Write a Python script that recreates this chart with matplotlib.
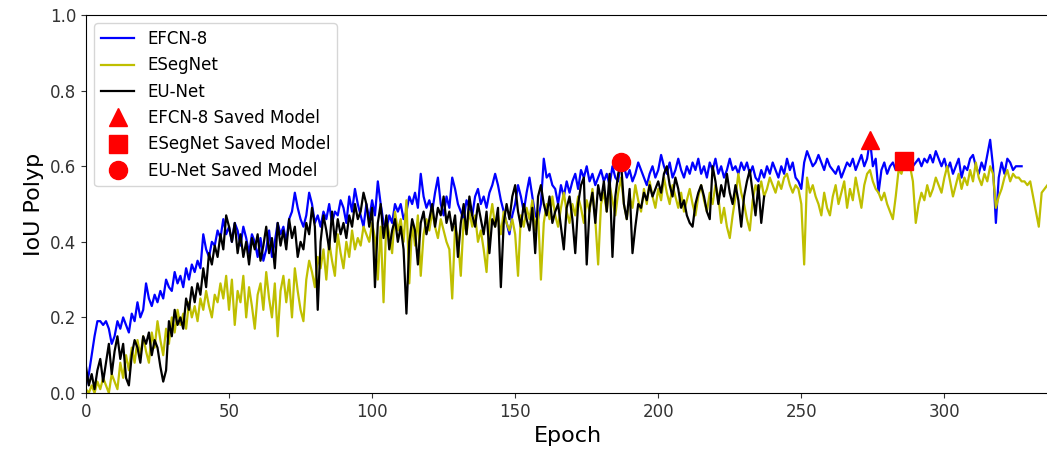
import matplotlib
matplotlib.use('Agg')
import matplotlib.pyplot as plt
import numpy as np

# IoU per epoch
efcn8 = [
    0.02, 0.05, 0.10, 0.15, 0.19, 0.19, 0.18, 0.19, 0.17, 0.13,
    0.15, 0.19, 0.17, 0.20, 0.18, 0.16, 0.21, 0.19, 0.24, 0.20,
    0.22, 0.29, 0.25, 0.23, 0.26, 0.24, 0.27, 0.25, 0.30, 0.28,
    0.27, 0.32, 0.29, 0.31, 0.28, 0.33, 0.30, 0.34, 0.32, 0.35,
    0.33, 0.42, 0.38, 0.36, 0.40, 0.39, 0.43, 0.41, 0.46, 0.42,
    0.44, 0.40, 0.45, 0.43, 0.39, 0.44, 0.41, 0.37, 0.42, 0.40,
    0.36, 0.41, 0.35, 0.38, 0.43, 0.36, 0.40, 0.45, 0.42, 0.44,
    0.40, 0.46, 0.48, 0.53, 0.49, 0.46, 0.44, 0.47, 0.53, 0.50,
    0.45, 0.47, 0.44, 0.48, 0.46, 0.50, 0.45, 0.48, 0.47, 0.51,
    0.49, 0.45, 0.52, 0.48, 0.54, 0.50, 0.47, 0.44, 0.50, 0.46,
    0.51, 0.47, 0.56, 0.50, 0.45, 0.43, 0.47, 0.45, 0.50, 0.48,
    0.50, 0.46, 0.48, 0.52, 0.50, 0.53, 0.49, 0.58, 0.52, 0.49,
    0.51, 0.48, 0.53, 0.57, 0.50, 0.47, 0.52, 0.49, 0.57, 0.54,
    0.50, 0.48, 0.46, 0.51, 0.49, 0.47, 0.52, 0.54, 0.50, 0.52,
    0.49, 0.53, 0.55, 0.58, 0.55, 0.51, 0.48, 0.45, 0.42, 0.47,
    0.50, 0.55, 0.52, 0.48, 0.53, 0.57, 0.52, 0.47, 0.46, 0.50,
    0.62, 0.57, 0.58, 0.55, 0.54, 0.50, 0.55, 0.52, 0.56, 0.53,
    0.56, 0.58, 0.54, 0.59, 0.57, 0.60, 0.56, 0.58, 0.55, 0.57,
    0.59, 0.56, 0.58, 0.55, 0.60, 0.57, 0.56, 0.62, 0.60, 0.57,
    0.59, 0.56, 0.58, 0.61, 0.59, 0.57, 0.55, 0.58, 0.60, 0.57,
    0.59, 0.63, 0.60, 0.58, 0.61, 0.57, 0.59, 0.62, 0.59, 0.57,
    0.60, 0.58, 0.61, 0.59, 0.62, 0.58, 0.60, 0.57, 0.61, 0.59,
    0.62, 0.58, 0.60, 0.57, 0.59, 0.62, 0.59, 0.60, 0.58, 0.61,
    0.59, 0.61, 0.58, 0.60, 0.57, 0.56, 0.59, 0.57, 0.60, 0.58,
    0.61, 0.59, 0.57, 0.60, 0.58, 0.62, 0.59, 0.61, 0.57, 0.56,
    0.54, 0.61, 0.64, 0.62, 0.60, 0.61, 0.63, 0.61, 0.59, 0.62,
    0.60, 0.59, 0.58, 0.60, 0.57, 0.59, 0.61, 0.60, 0.62, 0.59,
    0.61, 0.63, 0.60, 0.62, 0.67, 0.60, 0.62, 0.53, 0.59, 0.61,
    0.58, 0.60, 0.61, 0.59, 0.62, 0.60, 0.61, 0.63, 0.62, 0.60,
    0.61, 0.62, 0.60, 0.62, 0.61, 0.63, 0.61, 0.64, 0.62, 0.60,
    0.62, 0.59, 0.61, 0.58, 0.60, 0.62, 0.57, 0.60, 0.59, 0.62,
    0.63, 0.60, 0.58, 0.61, 0.59, 0.63, 0.67, 0.60, 0.45, 0.57,
    0.61, 0.58, 0.62, 0.61, 0.59, 0.60, 0.60, 0.60,
]

esegnet = [
    0.01, 0.00, 0.02, 0.00, 0.03, 0.01, 0.04, 0.02, 0.00, 0.05,
    0.03, 0.01, 0.08, 0.04, 0.10, 0.06, 0.12, 0.08, 0.14, 0.10,
    0.15, 0.11, 0.08, 0.16, 0.12, 0.19, 0.14, 0.10, 0.17, 0.13,
    0.20, 0.16, 0.22, 0.18, 0.21, 0.17, 0.24, 0.20, 0.23, 0.19,
    0.25, 0.22, 0.27, 0.23, 0.20, 0.26, 0.24, 0.29, 0.25, 0.31,
    0.22, 0.30, 0.18, 0.27, 0.24, 0.31, 0.20, 0.28, 0.23, 0.17,
    0.26, 0.29, 0.22, 0.32, 0.25, 0.20, 0.29, 0.15, 0.27, 0.31,
    0.24, 0.30, 0.20, 0.33, 0.27, 0.22, 0.19, 0.30, 0.35, 0.32,
    0.28, 0.36, 0.33, 0.38, 0.30, 0.40, 0.35, 0.31, 0.42, 0.37,
    0.33, 0.40, 0.36, 0.43, 0.38, 0.41, 0.39, 0.44, 0.42, 0.40,
    0.45, 0.41, 0.30, 0.44, 0.24, 0.46, 0.42, 0.37, 0.48, 0.43,
    0.46, 0.40, 0.51, 0.29, 0.45, 0.39, 0.47, 0.31, 0.42, 0.46,
    0.43, 0.48, 0.44, 0.41, 0.46, 0.43, 0.40, 0.38, 0.25, 0.44,
    0.41, 0.31, 0.46, 0.42, 0.48, 0.44, 0.47, 0.40, 0.43, 0.38,
    0.32, 0.45, 0.50, 0.44, 0.47, 0.42, 0.48, 0.45, 0.43, 0.46,
    0.42, 0.31, 0.47, 0.44, 0.49, 0.46, 0.51, 0.43, 0.48, 0.30,
    0.45, 0.50, 0.46, 0.52, 0.47, 0.44, 0.49, 0.53, 0.48, 0.45,
    0.50, 0.47, 0.52, 0.49, 0.45, 0.51, 0.48, 0.54, 0.46, 0.34,
    0.50, 0.53, 0.48, 0.55, 0.51, 0.47, 0.53, 0.57, 0.50, 0.46,
    0.52, 0.49, 0.55, 0.51, 0.48, 0.54, 0.50, 0.56, 0.52, 0.49,
    0.54, 0.51, 0.57, 0.53, 0.50, 0.55, 0.52, 0.49, 0.53, 0.48,
    0.51, 0.54, 0.50, 0.47, 0.52, 0.55, 0.51, 0.48, 0.53, 0.50,
    0.55, 0.52, 0.45, 0.49, 0.44, 0.41, 0.47, 0.52, 0.58, 0.53,
    0.50, 0.46, 0.43, 0.51, 0.55, 0.53, 0.56, 0.52, 0.54, 0.57,
    0.55, 0.53, 0.56, 0.54, 0.57, 0.58, 0.55, 0.53, 0.55, 0.54,
    0.50, 0.34, 0.57, 0.53, 0.55, 0.52, 0.50, 0.47, 0.53, 0.49,
    0.47, 0.52, 0.55, 0.50, 0.53, 0.56, 0.49, 0.54, 0.51, 0.57,
    0.53, 0.49, 0.55, 0.58, 0.59, 0.56, 0.54, 0.53, 0.51, 0.53,
    0.50, 0.48, 0.46, 0.52, 0.59, 0.58, 0.61, 0.59, 0.60, 0.56,
    0.45, 0.50, 0.53, 0.51, 0.55, 0.52, 0.54, 0.57, 0.55, 0.53,
    0.57, 0.60, 0.56, 0.52, 0.55, 0.58, 0.54, 0.57, 0.55, 0.59,
    0.56, 0.61, 0.57, 0.55, 0.58, 0.56, 0.60, 0.58, 0.49, 0.52,
    0.54, 0.57, 0.59, 0.56, 0.58, 0.57, 0.57, 0.56, 0.56, 0.55,
    0.56, 0.52, 0.48, 0.44, 0.53, 0.54, 0.55,
]

eunet = [
    0.07, 0.02, 0.05, 0.01, 0.06, 0.09, 0.03, 0.08, 0.13, 0.05,
    0.11, 0.15, 0.09, 0.13, 0.04, 0.02, 0.10, 0.14, 0.12, 0.08,
    0.15, 0.13, 0.16, 0.10, 0.14, 0.12, 0.07, 0.03, 0.06, 0.19,
    0.15, 0.22, 0.18, 0.20, 0.17, 0.25, 0.22, 0.28, 0.24, 0.29,
    0.26, 0.33, 0.28, 0.37, 0.34, 0.39, 0.36, 0.42, 0.38, 0.47,
    0.44, 0.40, 0.45, 0.37, 0.42, 0.36, 0.40, 0.34, 0.41, 0.38,
    0.42, 0.35, 0.39, 0.44, 0.37, 0.41, 0.33, 0.45, 0.39, 0.43,
    0.38, 0.46, 0.41, 0.44, 0.36, 0.40, 0.38, 0.45, 0.42, 0.49,
    0.44, 0.22, 0.40, 0.47, 0.43, 0.38, 0.48, 0.40, 0.46, 0.42,
    0.45, 0.41, 0.47, 0.44, 0.50, 0.46, 0.48, 0.53, 0.50, 0.44,
    0.49, 0.28, 0.45, 0.50, 0.41, 0.47, 0.38, 0.43, 0.46, 0.40,
    0.44, 0.38, 0.21, 0.40, 0.46, 0.43, 0.34, 0.45, 0.48, 0.42,
    0.46, 0.50, 0.44, 0.49, 0.47, 0.52, 0.45, 0.48, 0.43, 0.47,
    0.36, 0.45, 0.50, 0.42, 0.52, 0.47, 0.44, 0.50, 0.46, 0.42,
    0.48, 0.37, 0.46, 0.44, 0.49, 0.28, 0.45, 0.50, 0.46, 0.52,
    0.55, 0.48, 0.44, 0.50, 0.46, 0.43, 0.49, 0.37, 0.52, 0.55,
    0.50, 0.47, 0.52, 0.45, 0.48, 0.50, 0.44, 0.38, 0.49, 0.52,
    0.46, 0.37, 0.50, 0.55, 0.57, 0.34, 0.49, 0.53, 0.45, 0.55,
    0.51, 0.56, 0.48, 0.58, 0.36, 0.52, 0.58, 0.61, 0.50, 0.46,
    0.54, 0.37, 0.44, 0.50, 0.49, 0.53, 0.51, 0.55, 0.52, 0.54,
    0.56, 0.53, 0.58, 0.60, 0.55, 0.52, 0.57, 0.54, 0.49, 0.51,
    0.47, 0.45, 0.44, 0.50, 0.53, 0.55, 0.52, 0.48, 0.46, 0.60,
    0.56, 0.50, 0.55, 0.52, 0.58, 0.53, 0.50, 0.55, 0.51, 0.44,
    0.52, 0.56, 0.59, 0.53, 0.47, 0.55, 0.45, 0.52,
]

# saved-model points (epoch, IoU)
saved_epochs = [274, 286, 187]
saved_iou = [0.67, 0.614, 0.611]

fig = plt.figure(figsize=(10.47, 4.58), dpi=100)
ax = fig.add_axes([0.0821, 0.142, 0.921, 0.825])

ax.plot(np.arange(len(efcn8)), efcn8, color='b', linewidth=1.6, label='EFCN-8')
ax.plot(np.arange(len(esegnet)), esegnet, color='y', linewidth=1.6, label='ESegNet')
ax.plot(np.arange(len(eunet)), eunet, color='k', linewidth=1.6, label='EU-Net')

ax.plot(saved_epochs[0], saved_iou[0], 'r^', markersize=13, linestyle='none', label='EFCN-8 Saved Model')
ax.plot(saved_epochs[1], saved_iou[1], 'rs', markersize=13, linestyle='none', label='ESegNet Saved Model')
ax.plot(saved_epochs[2], saved_iou[2], 'ro', markersize=13, linestyle='none', label='EU-Net Saved Model')

ax.set_xlim(0, 337)
ax.set_ylim(0, 1.0)
ax.set_xticks([0, 50, 100, 150, 200, 250, 300])
ax.set_yticks([0.0, 0.2, 0.4, 0.6, 0.8, 1.0])
ax.tick_params(labelsize=12, colors='#333333', labelcolor='#333333')
ax.set_xlabel('Epoch', fontsize=16)
ax.set_ylabel('IoU Polyp', fontsize=16)
ax.legend(loc='upper left', fontsize=12)

plt.savefig('out.png', dpi=100)
